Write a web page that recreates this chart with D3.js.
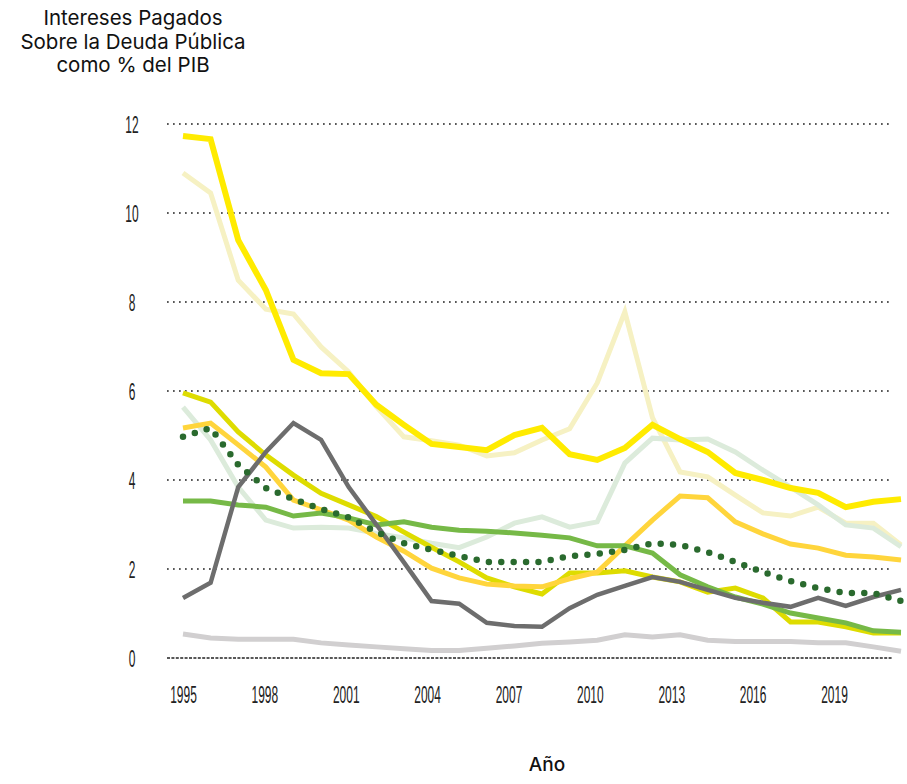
<!DOCTYPE html>
<html lang="es">
<head>
  <meta charset="UTF-8">
  <title>Intereses Pagados Sobre la Deuda Pública</title>
  <style>
    body {
      margin: 0;
      background: #fff;
    }
    svg { display: block; }
    .title { font-family: Inter, "Noto Sans", sans-serif; font-size: 20.5px; fill: #111; }
    .tick text { font-family: "Liberation Sans", Arial, sans-serif; font-size: 23px; fill: #222; }
    .xlabel { font-family: Inter, "Noto Sans", sans-serif; font-size: 19px; font-weight: 500; fill: #111; }
  </style>
</head>
<body>

<svg width="907" height="784"></svg>

<script src="https://cdn.jsdelivr.net/npm/d3@7"></script>
<script>
  const years = d3.range(1995, 2022);
  const yTicks = [0, 2, 4, 6, 8, 10, 12];
  const xTicks = [1995, 1998, 2001, 2004, 2007, 2010, 2013, 2016, 2019];

  const brightYellow = [11.73, 11.66, 9.39, 8.27, 6.70, 6.40, 6.38, 5.69, 5.24, 4.81, 4.74, 4.67, 5.01, 5.17, 4.58, 4.45, 4.72, 5.24, 4.92, 4.63, 4.16, 4.00, 3.82, 3.71, 3.39, 3.51, 3.57];
  const paleYellow = [10.9, 10.45, 8.49, 7.84, 7.73, 6.99, 6.43, 5.65, 4.97, 4.88, 4.78, 4.54, 4.61, 4.9, 5.15, 6.18, 7.78, 5.4, 4.18, 4.07, 3.66, 3.26, 3.19, 3.39, 3.03, 3.03, 2.54];
  const paleGreen = [5.64, 4.9, 3.84, 3.1, 2.92, 2.94, 2.92, 2.8, 2.7, 2.58, 2.48, 2.72, 3.03, 3.17, 2.94, 3.06, 4.38, 4.94, 4.9, 4.92, 4.63, 4.22, 3.84, 3.44, 2.99, 2.92, 2.5];
  const olive = [5.96, 5.75, 5.08, 4.56, 4.11, 3.7, 3.44, 3.18, 2.83, 2.49, 2.16, 1.8, 1.6, 1.44, 1.91, 1.91, 1.96, 1.82, 1.71, 1.48, 1.57, 1.35, 0.81, 0.81, 0.7, 0.56, 0.56];
  const gold = [5.17, 5.28, 4.79, 4.29, 3.55, 3.33, 3.1, 2.72, 2.4, 2.02, 1.8, 1.66, 1.62, 1.6, 1.78, 1.93, 2.52, 3.1, 3.64, 3.6, 3.06, 2.79, 2.56, 2.47, 2.31, 2.27, 2.2];
  const green = [3.53, 3.53, 3.44, 3.39, 3.19, 3.26, 3.15, 2.99, 3.06, 2.94, 2.87, 2.85, 2.81, 2.76, 2.7, 2.52, 2.52, 2.36, 1.87, 1.6, 1.37, 1.21, 1.01, 0.9, 0.79, 0.61, 0.58];
  const darkGray = [1.35, 1.69, 3.84, 4.63, 5.28, 4.9, 3.84, 3.0, 2.15, 1.28, 1.22, 0.79, 0.72, 0.7, 1.12, 1.42, 1.62, 1.82, 1.71, 1.53, 1.35, 1.24, 1.15, 1.35, 1.17, 1.37, 1.53];
  const lightGray = [0.54, 0.45, 0.42, 0.42, 0.42, 0.34, 0.29, 0.25, 0.21, 0.17, 0.17, 0.22, 0.27, 0.33, 0.36, 0.4, 0.52, 0.47, 0.52, 0.4, 0.37, 0.37, 0.37, 0.34, 0.34, 0.25, 0.15];
  const average = [4.97, 5.17, 4.34, 3.82, 3.57, 3.35, 3.16, 2.83, 2.58, 2.43, 2.29, 2.16, 2.16, 2.16, 2.29, 2.34, 2.43, 2.58, 2.54, 2.38, 2.16, 1.93, 1.73, 1.57, 1.46, 1.46, 1.28];

  // drawing order, back to front
  const series = [
    { values: lightGray, color: "#d1cfd0", width: 5 },
    { values: paleYellow, color: "#f6f1c3", width: 5 },
    { values: paleGreen, color: "#dcebdb", width: 5 },
    { values: olive, color: "#dedc00", width: 5 },
    { values: gold, color: "#ffd53c", width: 5 },
    { values: green, color: "#76b947", width: 5 },
    { values: brightYellow, color: "#ffeb00", width: 6 },
    { values: darkGray, color: "#6d6d6d", width: 4.5 },
    { values: average, color: "#2a6a2e", width: 6.5, dots: true }
  ];

  const svg = d3.select("svg");

  const x = d3.scaleLinear().domain([1995, 2021]).range([183, 901]);
  const xLabel = d3.scaleLinear().domain([1995, 2019]).range([183, 834]);
  const y = d3.scaleLinear().domain([0, 12]).range([658, 124]);

  // gridlines
  svg.append("g")
    .selectAll("line")
    .data(yTicks)
    .enter()
    .append("line")
    .attr("x1", 167)
    .attr("x2", 893)
    .attr("y1", d => y(d))
    .attr("y2", d => y(d))
    .attr("stroke", "#222")
    .attr("stroke-width", 1.7)
    .attr("stroke-dasharray", d => d === 0 ? "3,1.4" : "1.7,4.3");

  // y axis labels
  const yAxis = svg.append("g")
    .attr("transform", "translate(132,0)")
    .call(d3.axisLeft(y).tickValues(yTicks).tickSize(0).tickPadding(0));
  yAxis.select(".domain").remove();
  yAxis.selectAll(".tick text")
    .attr("x", 0)
    .attr("dy", "0.38em")
    .attr("text-anchor", "middle")
    .attr("transform", "scale(0.52,1)");

  // x axis labels
  const xAxis = svg.append("g")
    .attr("transform", "translate(0,686)")
    .call(d3.axisBottom(xLabel).tickValues(xTicks).tickFormat(d3.format("d")).tickSize(0).tickPadding(0));
  xAxis.select(".domain").remove();
  xAxis.selectAll(".tick text")
    .attr("y", 0)
    .attr("dy", "0.74em")
    .attr("transform", "scale(0.52,1)");

  // lines
  const line = d3.line()
    .x((d, i) => x(years[i]))
    .y(d => y(d));

  svg.append("g")
    .selectAll("path")
    .data(series)
    .enter()
    .append("path")
    .attr("d", d => line(d.values))
    .attr("fill", "none")
    .attr("stroke", d => d.color)
    .attr("stroke-width", d => d.width)
    .attr("stroke-linejoin", d => d.dots ? "round" : "miter")
    .attr("stroke-linecap", d => d.dots ? "round" : "butt")
    .attr("stroke-dasharray", d => d.dots ? "0,12.4" : null);

  // titles
  const title = svg.append("text")
    .attr("class", "title")
    .attr("text-anchor", "middle");
  ["Intereses Pagados", "Sobre la Deuda Pública", "como % del PIB"].forEach((t, i) => {
    title.append("tspan")
      .attr("x", 133)
      .attr("y", 25 + i * 23.5)
      .text(t);
  });

  svg.append("text")
    .attr("class", "xlabel")
    .attr("x", 547)
    .attr("y", 771)
    .attr("text-anchor", "middle")
    .text("Año");
</script>

</body>
</html>
